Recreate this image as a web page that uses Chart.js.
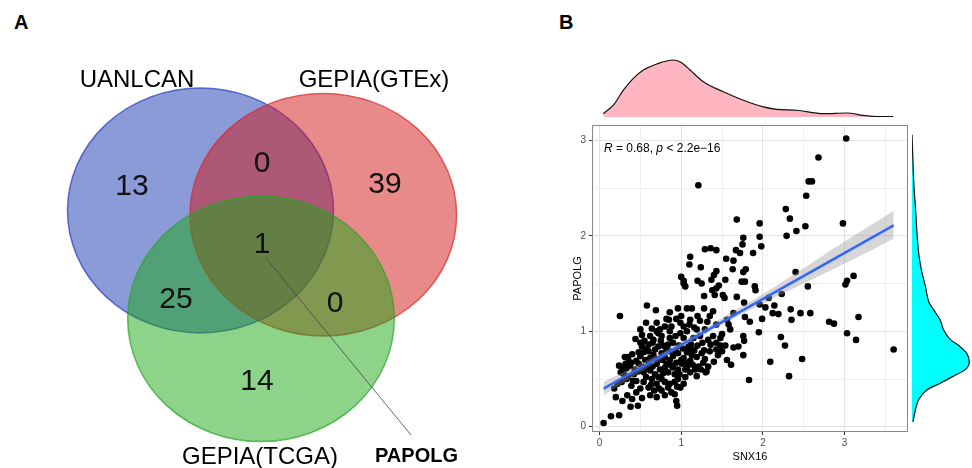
<!DOCTYPE html>
<html><head><meta charset="utf-8">
<script src="https://cdn.jsdelivr.net/npm/chart.js@4.4.1/dist/chart.umd.min.js"></script>
<style>
html,body{margin:0;padding:0;background:#fff;width:972px;height:468px;overflow:hidden;position:relative;font-family:"Liberation Sans",Arial,sans-serif}
canvas{position:absolute}
.tag{position:absolute;font-weight:bold;font-size:20px;line-height:23px;color:#000}
</style></head><body>
<div class="tag" style="left:14px;top:11px">A</div>
<div class="tag" style="left:559px;top:11px">B</div>
<canvas id="venn" width="486" height="468" style="left:0;top:0"></canvas>
<canvas id="topd" width="347" height="67" style="left:565px;top:50px"></canvas>
<canvas id="scat" width="347" height="352" style="left:565px;top:116px"></canvas>
<canvas id="rightd" width="67" height="352" style="left:905px;top:116px"></canvas>
<script>
// ---------------- DATA ----------------
// Panel A: Venn diagram
const setNames = ['UANLCAN', 'GEPIA(GTEx)', 'GEPIA(TCGA)'];
const regionNames = ['UANLCAN only', 'UANLCAN∩GTEx', 'GTEx only', 'all three', 'UANLCAN∩TCGA', 'GTEx∩TCGA', 'TCGA only'];
const regionCounts = [13, 0, 39, 1, 25, 0, 14];
const sharedGene = 'PAPOLG';

// Panel B: SNX16 (x) vs PAPOLG (y) expression
const snx16 = [
  0.58,0.69,0.86,0.96,1.07,1.13,1.20,1.28,1.39,0.25,
  0.57,0.70,0.82,0.85,0.74,0.64,0.99,1.03,1.11,1.10,1.23,1.32,1.35,1.19,1.29,1.43,1.56,1.58,0.50,0.86,
  0.50,0.52,0.62,0.66,0.72,0.76,0.72,0.78,0.86,0.90,0.99,1.03,1.07,1.09,1.15,1.23,1.26,1.33,1.39,1.43,1.50,0.58,0.68,0.82,
  0.31,0.35,0.39,0.45,0.50,0.54,0.60,0.66,0.70,0.76,0.80,0.86,0.90,0.94,0.96,1.03,1.07,1.11,1.13,1.19,1.25,1.29,1.35,1.43,1.50,1.10,
  0.26,0.29,0.33,0.37,0.43,0.48,0.54,0.58,0.62,0.70,0.74,0.80,0.84,0.88,0.92,0.96,1.01,1.07,1.11,1.21,1.27,1.31,
  0.27,0.33,0.39,0.45,0.50,0.54,0.60,0.64,0.70,0.76,0.80,0.84,0.88,0.92,0.96,0.99,1.03,0.76,0.92,0.45,
  0.20,0.28,0.38,0.47,0.40,0.52,0.62,0.70,0.80,0.94,0.95,0.05,0.14,0.24,0.34,
  0.42,0.47,0.52,0.56,0.61,0.65,0.68,0.72,0.78,0.82,0.86,0.90,0.93,0.97,1.00,1.05,1.08,1.12,1.16,1.20,
  1.24,1.28,0.55,0.60,0.65,0.75,0.80,0.88,0.94,1.00,0.48,0.40,0.36,0.32,0.30,0.35,0.41,0.57,0.63,0.67,
  0.73,0.86,0.98,1.05,1.14,0.22,0.18,0.24,0.44,0.70,0.93,1.16,1.36,1.45,0.62,0.84,1.02,0.52,0.77,0.95,
  3.02,2.68,1.21,2.56,2.60,2.53,2.28,2.33,1.68,1.96,
  2.98,2.52,2.41,2.29,1.96,1.76,1.75,1.98,1.29,1.36,
  1.43,1.67,1.72,1.88,1.11,1.55,1.64,1.10,1.24,1.79,
  1.76,1.63,1.43,1.40,1.54,1.37,1.74,1.78,2.40,3.11,
  3.03,3.01,1.00,1.03,1.05,1.03,1.20,1.25,1.46,1.38,
  1.43,1.51,1.53,1.28,1.41,1.90,1.91,2.55,1.68,2.23,
  2.07,1.77,1.96,2.03,2.14,2.34,2.12,2.19,2.46,2.58,
  1.64,2.35,1.99,1.78,3.17,2.81,2.87,1.84,1.60,1.95,
  3.03,2.22,3.14,2.27,3.60,1.76,1.77,1.70,1.64,1.76,
  1.56,1.61,2.48,2.09,2.32,1.83,1.48,1.48,1.54,1.40,
  1.33,1.30,1.19,1.17
];
const papolg = [
  1.27,1.22,1.20,1.24,1.24,1.24,1.16,1.24,1.21,1.16,
  1.09,1.09,1.13,1.12,1.02,1.03,1.09,1.05,1.12,1.07,1.11,1.10,1.16,1.02,1.02,1.07,1.12,1.07,1.02,1.00,
  0.88,0.84,0.95,0.91,0.98,0.95,0.84,0.85,0.93,0.88,0.98,0.93,1.00,0.84,0.93,0.95,0.88,0.91,0.95,0.88,0.97,0.81,0.81,0.81,
  0.73,0.73,0.67,0.69,0.74,0.78,0.79,0.75,0.71,0.77,0.73,0.79,0.74,0.67,0.77,0.72,0.78,0.69,0.75,0.73,0.77,0.71,0.79,0.81,0.79,0.81,
  0.57,0.62,0.61,0.64,0.60,0.66,0.57,0.62,0.59,0.66,0.60,0.62,0.57,0.64,0.55,0.60,0.66,0.62,0.57,0.63,0.67,0.58,
  0.47,0.50,0.43,0.48,0.40,0.47,0.41,0.50,0.45,0.38,0.47,0.41,0.36,0.47,0.50,0.41,0.45,0.50,0.34,0.36,
  0.31,0.27,0.21,0.22,0.29,0.30,0.33,0.31,0.33,0.27,0.22,0.04,0.11,0.12,0.33,
  0.55,0.58,0.63,0.70,0.68,0.63,0.55,0.52,0.56,0.66,0.70,0.62,0.80,0.85,0.70,0.60,0.67,0.86,0.80,0.85,
  0.60,0.80,0.90,0.86,0.88,0.90,1.05,1.05,1.13,1.16,0.78,0.76,0.68,0.66,0.55,0.52,0.48,0.52,0.44,0.38,
  0.40,0.45,0.55,0.52,0.65,0.45,0.40,0.64,0.92,1.00,0.95,1.04,0.86,0.75,0.72,0.86,0.82,0.96,0.70,0.42,
  3.02,2.82,2.53,2.57,2.57,2.42,2.28,2.18,2.17,2.13,
  2.13,2.10,2.05,2.00,1.99,1.98,1.91,1.89,1.86,1.87,
  1.85,1.85,1.82,1.82,1.78,1.76,1.74,1.70,1.67,1.65,
  1.62,1.65,1.63,1.59,1.54,1.54,1.52,1.52,1.62,1.58,
  1.53,1.49,1.57,1.53,1.47,1.50,1.53,1.50,1.48,1.43,
  1.45,1.38,1.35,1.37,1.38,1.47,1.43,1.47,1.36,1.39,
  1.35,1.30,1.28,1.25,1.27,1.23,1.19,1.18,1.19,1.19,
  1.19,1.12,1.13,1.15,1.15,1.10,1.08,1.10,1.02,0.99,
  0.98,0.94,0.91,0.85,0.81,0.95,0.90,0.84,0.83,0.75,
  0.70,0.65,0.71,0.68,0.53,0.49,0.93,0.85,0.85,0.68,
  0.63,0.57,0.53,0.60
];
const corR = '0.68';
const pValueText = '2.2e\u221216';

// linear fit and its confidence band
const fitX = [0.05, 3.60];
const fitY = [0.40, 2.11];
const bandX = [0.05, 0.5, 1.0, 1.5, 2.0, 2.5, 3.0, 3.6];
const bandLow = [0.33, 0.57, 0.83, 1.07, 1.29, 1.50, 1.71, 1.97];
const bandHigh = [0.47, 0.66, 0.89, 1.14, 1.39, 1.66, 1.94, 2.26];

// marginal densities
const snx16DensX = [0.047,0.169,0.292,0.414,0.537,0.70,0.904,1.006,1.108,1.271,1.516,1.76,2.005,2.168,2.413,2.74,3.025,3.229,3.392,3.596];
const snx16Dens = [0.035,0.124,0.282,0.406,0.494,0.558,0.600,0.572,0.494,0.371,0.265,0.176,0.106,0.081,0.071,0.035,0.042,0.018,0.004,0.003];
const papolgDensY = [3.02,2.48,2.28,1.79,1.62,1.45,1.29,1.21,1.10,1.00,0.90,0.83,0.76,0.67,0.59,0.52,0.45,0.38,0.28,0.17,0.05];
const papolgDens = [0.00,0.03,0.05,0.10,0.14,0.20,0.25,0.32,0.42,0.47,0.57,0.71,0.81,0.85,0.79,0.61,0.42,0.22,0.10,0.05,0.015];

// axis ticks
const xMajor = [0, 1, 2, 3];
const xMinor = [0.5, 1.5, 2.5, 3.5];
const yMajor = [0, 1, 2, 3];
const yMinor = [0.5, 1.5, 2.5];

// ---------------- LAYOUT / STYLE ----------------
const FONT = '"Liberation Sans", Arial, sans-serif';
Chart.defaults.font.family = FONT;

const vennShapes = [
  {cx:200.5, cy:210.5, rx:133, ry:122.5, fill:'rgba(21,55,177,0.5)',  stroke:'rgba(40,60,190,0.7)'},
  {cx:323.3, cy:214.7, rx:133.3, ry:121.3, fill:'rgba(209,21,21,0.5)', stroke:'rgba(215,40,40,0.7)'},
  {cx:261,   cy:318.8, rx:133.3, ry:122.8, fill:'rgba(27,167,21,0.5)', stroke:'rgba(40,165,35,0.7)'}
];
const vennSetLabelPos = [{x:137, y:87}, {x:374, y:87}, {x:260, y:464}];
const vennCountPos = [{x:132,y:195},{x:262,y:172},{x:385,y:193},{x:262,y:253},{x:176,y:308},{x:335,y:312},{x:257,y:390}];
const pointerFrom = {x:265, y:257}, pointerTo = {x:411, y:435};
const geneLabelPos = {x:375, y:462};
const annPos = {x:0.055, y:2.88};

// ---------------- PANEL A ----------------
const vennPlugin = {
  id: 'venn',
  beforeDatasetsDraw(chart) {
    const {ctx, scales:{x, y}} = chart;
    ctx.save();
    vennShapes.forEach(s => {
      const cx = x.getPixelForValue(s.cx), cy = y.getPixelForValue(s.cy);
      const rx = Math.abs(x.getPixelForValue(s.cx + s.rx) - cx);
      const ry = Math.abs(y.getPixelForValue(s.cy + s.ry) - cy);
      ctx.beginPath();
      ctx.ellipse(cx, cy, rx, ry, 0, 0, Math.PI * 2);
      ctx.fillStyle = s.fill; ctx.fill();
      ctx.lineWidth = 1.5; ctx.strokeStyle = s.stroke; ctx.stroke();
    });
    ctx.restore();
  },
  afterDatasetsDraw(chart) {
    const {ctx, scales:{x, y}} = chart;
    ctx.save();
    ctx.fillStyle = '#000';
    ctx.textAlign = 'center'; ctx.textBaseline = 'alphabetic';
    ctx.font = '24px ' + FONT;
    setNames.forEach((n, i) => ctx.fillText(n, x.getPixelForValue(vennSetLabelPos[i].x), y.getPixelForValue(vennSetLabelPos[i].y)));
    ctx.font = '30px ' + FONT;
    ctx.fillStyle = '#111';
    regionCounts.forEach((c, i) => ctx.fillText(String(c), x.getPixelForValue(vennCountPos[i].x), y.getPixelForValue(vennCountPos[i].y)));
    // pointer
    ctx.strokeStyle = '#444'; ctx.lineWidth = 0.8;
    ctx.beginPath();
    ctx.moveTo(x.getPixelForValue(pointerFrom.x), y.getPixelForValue(pointerFrom.y));
    ctx.lineTo(x.getPixelForValue(pointerTo.x), y.getPixelForValue(pointerTo.y));
    ctx.stroke();
    ctx.fillStyle = '#000';
    ctx.textAlign = 'left';
    ctx.font = 'bold 20px ' + FONT;
    ctx.fillText(sharedGene, x.getPixelForValue(geneLabelPos.x), y.getPixelForValue(geneLabelPos.y));
    ctx.restore();
  }
};

new Chart(document.getElementById('venn'), {
  type: 'scatter',
  data: { datasets: [{ label: 'regions', data: vennCountPos, pointRadius: 0 }] },
  options: {
    responsive: false, animation: false,
    layout: { padding: 0 },
    plugins: { legend: { display: false }, tooltip: { enabled: false } },
    scales: {
      x: { type: 'linear', min: 0, max: 486, display: false },
      y: { type: 'linear', min: 0, max: 468, reverse: true, display: false }
    }
  },
  plugins: [vennPlugin]
});

// ---------------- PANEL B ----------------
const X_MIN = -0.092, X_MAX = 3.776, Y_MIN = -0.055, Y_MAX = 3.161;

const panelPlugin = {
  id: 'panel',
  afterDatasetsDraw(chart) {
    const {ctx, chartArea:a, scales:{x, y}} = chart;
    ctx.save();
    ctx.strokeStyle = '#888'; ctx.lineWidth = 1;
    ctx.strokeRect(a.left + 0.5, a.top + 0.5, a.right - a.left - 1, a.bottom - a.top - 1);
    let px = x.getPixelForValue(annPos.x);
    const py = y.getPixelForValue(annPos.y);
    const parts = [['R', 'italic '], [' = ' + corR + ', ', ''], ['p', 'italic '], [' < ' + pValueText, '']];
    ctx.fillStyle = '#000'; ctx.textBaseline = 'alphabetic'; ctx.textAlign = 'left';
    parts.forEach(([t, st]) => {
      ctx.font = st + '12px ' + FONT;
      ctx.fillText(t, px, py);
      px += ctx.measureText(t).width;
    });
    ctx.restore();
  }
};

const gridColor = (major) => (c) => major.includes(c.tick && c.tick.value) ? '#e3e3e3' : '#f0f0f0';
const tickColor = (major) => (c) => major.includes(c.tick && c.tick.value) ? '#333' : 'rgba(0,0,0,0)';

new Chart(document.getElementById('scat'), {
  type: 'scatter',
  data: {
    datasets: [
      { label: 'band upper', type: 'line', showLine: true, data: bandX.map((v, i) => ({x: v, y: bandHigh[i]})),
        borderWidth: 0, pointRadius: 0, fill: '+1', backgroundColor: 'rgba(153,153,153,0.4)', tension: 0.4, order: 1 },
      { label: 'band lower', type: 'line', showLine: true, data: bandX.map((v, i) => ({x: v, y: bandLow[i]})),
        borderWidth: 0, pointRadius: 0, fill: false, tension: 0.4, order: 1 },
      { label: 'samples', data: snx16.map((v, i) => ({x: v, y: papolg[i]})),
        backgroundColor: '#000', borderWidth: 0, pointRadius: 3.3, order: 2 },
      { label: 'fit', type: 'line', showLine: true, data: fitX.map((v, i) => ({x: v, y: fitY[i]})),
        borderColor: '#3366FF', borderWidth: 2.5, pointRadius: 0, fill: false, order: 0 }
    ]
  },
  options: {
    responsive: false, animation: false,
    layout: { padding: { left: 0, right: 4, top: 5, bottom: 3 } },
    plugins: { legend: { display: false }, tooltip: { enabled: false } },
    scales: {
      x: {
        type: 'linear', min: X_MIN, max: X_MAX,
        afterBuildTicks: s => { s.ticks = xMajor.concat(xMinor).sort((a, b) => a - b).map(v => ({value: v})); },
        afterFit: s => { s.height = 33; },
        ticks: { callback: v => xMajor.includes(v) ? String(v) : '', color: '#4d4d4d', font: { size: 10 }, padding: 2, maxRotation: 0, autoSkip: false },
        grid: { color: gridColor(xMajor), lineWidth: 1, tickLength: 3, tickColor: tickColor(xMajor) },
        border: { display: false },
        title: { display: true, text: 'SNX16', color: '#000', font: { size: 11 }, padding: { top: 0, bottom: 1 } }
      },
      y: {
        type: 'linear', min: Y_MIN, max: Y_MAX,
        afterBuildTicks: s => { s.ticks = yMajor.concat(yMinor).sort((a, b) => a - b).map(v => ({value: v})); },
        afterFit: s => { s.width = 27; },
        ticks: { callback: v => yMajor.includes(v) ? String(v) : '', color: '#4d4d4d', font: { size: 10 }, padding: 3, autoSkip: false },
        grid: { color: gridColor(yMajor), lineWidth: 1, tickLength: 3, tickColor: tickColor(yMajor) },
        border: { display: false },
        title: { display: true, text: 'PAPOLG', color: '#000', font: { size: 11 }, padding: { top: 6, bottom: 0 } }
      }
    }
  },
  plugins: [panelPlugin]
});

// top marginal density (SNX16)
new Chart(document.getElementById('topd'), {
  type: 'line',
  data: { datasets: [{ data: snx16DensX.map((v, i) => ({x: v, y: snx16Dens[i]})), fill: 'origin',
    backgroundColor: '#FFB6C1', borderColor: '#111', borderWidth: 1.2, pointRadius: 0, cubicInterpolationMode: 'monotone' }] },
  options: {
    responsive: false, animation: false,
    layout: { padding: { left: 27, right: 4, top: 0, bottom: 0 } },
    plugins: { legend: { display: false }, tooltip: { enabled: false } },
    scales: {
      x: { type: 'linear', min: X_MIN, max: X_MAX, display: false },
      y: { type: 'linear', min: 0, max: 0.705, display: false }
    }
  }
});

// right marginal density (PAPOLG)
new Chart(document.getElementById('rightd'), {
  type: 'line',
  data: { datasets: [{ data: papolgDensY.map((v, i) => ({x: papolgDens[i], y: v})), fill: 'origin',
    backgroundColor: '#00FFFF', borderColor: '#111', borderWidth: 1.2, pointRadius: 0, cubicInterpolationMode: 'monotone' }] },
  options: {
    indexAxis: 'y',
    responsive: false, animation: false,
    layout: { padding: { left: 7, right: 0, top: 5, bottom: 36 } },
    plugins: { legend: { display: false }, tooltip: { enabled: false } },
    scales: {
      x: { type: 'linear', min: 0, max: 0.89, display: false },
      y: { type: 'linear', min: Y_MIN, max: Y_MAX, display: false }
    }
  }
});
</script>
</body></html>
